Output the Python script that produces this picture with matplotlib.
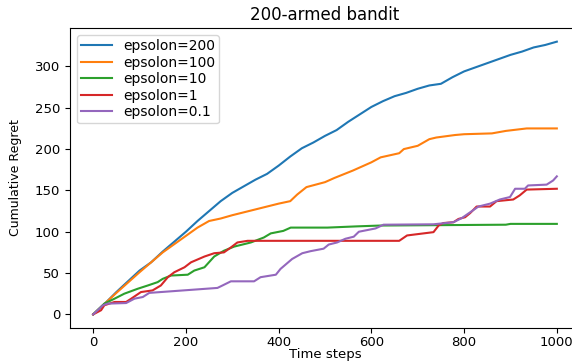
import matplotlib
matplotlib.use("Agg")
import matplotlib.pyplot as plt

# cumulative regret, (time step, value) pairs
t_200 = [0, 25, 50, 75, 100, 125, 150, 175, 200, 225, 250, 275, 300, 325, 350, 375, 400,
         425, 450, 475, 500, 525, 550, 575, 600, 625, 650, 675, 700, 725, 750, 775, 800,
         825, 850, 875, 900, 925, 950, 975, 1000]
r_200 = [0, 13, 27, 40, 53, 63, 76, 88, 100, 113, 125, 137, 147, 155, 163, 170, 180,
         191, 201, 208, 216, 223, 233, 242, 251, 258, 264, 268, 273, 277, 279, 287, 294,
         299, 304, 309, 314, 318, 323, 326, 330]

t_100 = [0, 50, 100, 150, 200, 225, 250, 275, 300, 350, 400, 425, 440, 460, 500, 520,
         560, 600, 620, 660, 670, 700, 725, 740, 780, 800, 860, 890, 935, 1000]
r_100 = [0, 26, 51, 75, 95, 105, 113, 116, 120, 127, 134, 137, 145, 154, 160, 165,
         174, 184, 190, 195, 200, 204, 212, 214, 217, 218, 219, 222, 225, 225]

t_10 = [0, 24, 46, 67, 96, 118, 139, 150, 168, 204, 218, 240, 261, 282, 304, 340, 368,
        383, 410, 426, 505, 569, 620, 890, 900, 1000]
r_10 = [0, 13, 19, 25, 31, 35, 39, 43, 47, 48, 53, 57, 70, 77, 82, 87, 93,
        98, 101, 105, 105, 106.5, 107.5, 108.5, 109.5, 109.5]

t_1 = [0, 17, 24, 46, 71, 82, 103, 128, 146, 161, 175, 197, 211, 240, 261, 282, 297,
       311, 333, 660, 677, 734, 745, 755, 777, 788, 802, 813, 827, 856, 870, 906, 920,
       935, 1000]
r_1 = [0, 5, 11, 15, 15, 19, 27, 29, 35, 45, 51, 57, 63, 70, 74, 75, 81,
       87, 89, 89, 95.5, 99.5, 107.5, 110.5, 111.5, 115.5, 117.5, 122.5, 130.5, 130.5, 137, 139, 144,
       151, 152]

t_01 = [0, 21, 31, 71, 89, 107, 121, 268, 279, 297, 347, 361, 394, 404, 429, 451, 469,
        497, 508, 526, 544, 562, 573, 591, 609, 626, 734, 777, 795, 813, 831, 856, 877,
        899, 910, 931, 938, 978, 992, 1000]
r_01 = [0, 11, 13, 13.7, 19, 21, 26, 32, 35, 40, 40, 45, 48, 55, 67, 74, 76.5,
        79.5, 84.5, 87, 91.5, 94, 100, 102, 104, 108.5, 109, 111.5, 116.5, 123.5, 130.5, 134, 139,
        142, 152, 152, 156, 157, 162, 167]

series = [
    ("epsolon=200", t_200, r_200),
    ("epsolon=100", t_100, r_100),
    ("epsolon=10", t_10, r_10),
    ("epsolon=1", t_1, r_1),
    ("epsolon=0.1", t_01, r_01),
]

fig = plt.figure(figsize=(5.72, 3.63), dpi=100)
ax = fig.add_axes([0.1224, 0.0964, 0.8916, 0.8264])

for label, t, r in series:
    ax.plot(t, r, label=label, linewidth=1.5)

ax.set_xlim(-50, 1050)
ax.set_ylim(-16.5, 346.5)
ax.set_xticks([0, 200, 400, 600, 800, 1000])
ax.set_yticks([0, 50, 100, 150, 200, 250, 300])
ax.tick_params(labelsize=9.5)
ax.tick_params(axis="x", pad=2.5)

ax.set_title("200-armed bandit", fontsize=12)
ax.set_xlabel("Time steps", fontsize=9.5, labelpad=-1)
ax.set_ylabel("Cumulative Regret", fontsize=9,
              family=["Liberation Sans Narrow", "DejaVu Sans"])
ax.yaxis.set_label_coords(-0.095, 0.5)
ax.legend(loc="upper left", fontsize=10, labelspacing=0.18, borderpad=0.3,
          handlelength=2.2)

fig.savefig("out.png", dpi=100)
